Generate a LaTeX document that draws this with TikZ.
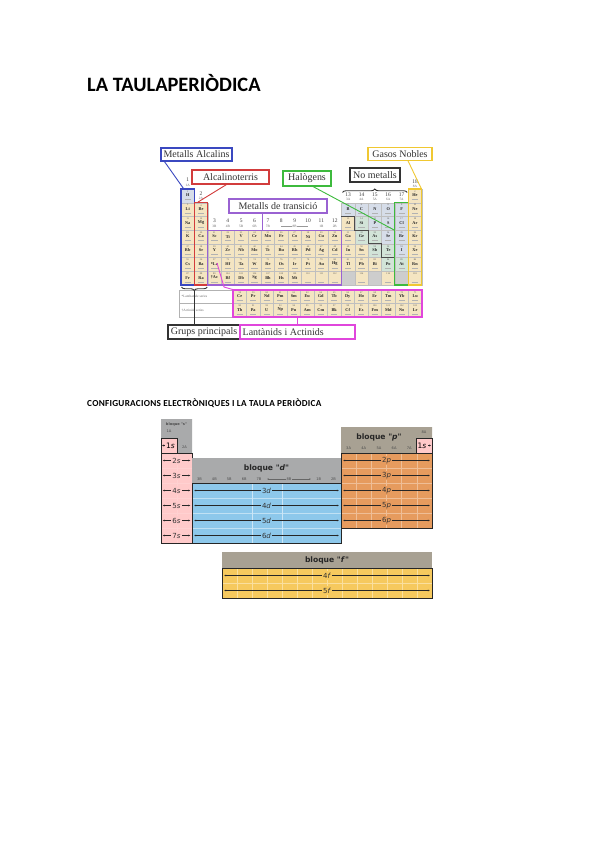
\documentclass[tikz,border=0pt]{standalone}
\usepackage{fontspec}
\setmainfont{Liberation Serif}
\newfontfamily\calfont{Carlito}
\newfontfamily\calspfont[LetterSpace=3]{Carlito}
\newfontfamily\dvfont{DejaVu Sans}
\usetikzlibrary{decorations.pathreplacing,arrows.meta}
\definecolor{pte}{HTML}{F4E5C2}
\definecolor{nm}{HTML}{D6DDE9}
\definecolor{md}{HTML}{D2E4D8}
\definecolor{un}{HTML}{CDCDCD}
\definecolor{cblue}{HTML}{3A48C0}
\definecolor{cred}{HTML}{D23C3C}
\definecolor{cgreen}{HTML}{3DBA3D}
\definecolor{cyel}{HTML}{F0C832}
\definecolor{cpur}{HTML}{9A62D2}
\definecolor{cmag}{HTML}{E046DC}
\definecolor{cdark}{HTML}{333333}
\definecolor{spink}{HTML}{FFCACA}
\definecolor{dblue}{HTML}{8DC8EB}
\definecolor{porange}{HTML}{E69B5E}
\definecolor{fyel}{HTML}{F6C95E}
\definecolor{hgray}{HTML}{A9AAAB}
\definecolor{hwarm}{HTML}{A8A193}
\def\cw{13.37}
\def\ch{13.71}
\newcommand\pcell[5]{%
  \fill[#5] (#1,#2) rectangle ++(\cw,\ch);
  \draw[cellln] (#1,#2) rectangle ++(\cw,\ch);
  \node[eno] at (#1+0.5*\cw,#2+2.5) {#3};
  \node[esym] at (#1+0.5*\cw,#2+6.4) {#4};
  \draw[massln] (#1+3.6,#2+10.6) -- ++(\cw-7.2,0);
}
\begin{document}
\begin{tikzpicture}[x=1pt,y=-1pt,
  cellln/.style={draw=black!25,line width=0.3pt},
  eno/.style={font=\fontsize{2.4}{2.4}\selectfont,inner sep=0pt,text=black!70},
  esym/.style={font=\fontsize{4.3}{4.3}\selectfont\bfseries,inner sep=0pt,text=black!85},
  massln/.style={draw=black!30,line width=0.6pt},
  gn/.style={font=\fontsize{5.5}{5.5}\selectfont,inner sep=0pt,text=black!75},
  ga/.style={font=\fontsize{3.4}{3.4}\selectfont,inner sep=0pt,text=black!60},
  lbl/.style={draw,line width=1.1pt,inner sep=0pt,font=\fontsize{10}{10}\selectfont,text=black!80},
  grp/.style={draw,line width=1.1pt,inner sep=0pt},
  conn/.style={line width=0.9pt},
  hdbig/.style={font=\dvfont\bfseries\fontsize{7.6}{8}\selectfont,inner sep=0pt,text=black!85},
  hdtiny/.style={font=\dvfont\fontsize{3.6}{4}\selectfont,inner sep=0.6pt,text=black!70},
  rowarr/.style={{Latex[length=2.2pt,width=2pt]}-{Latex[length=2.2pt,width=2pt]},line width=0.8pt,draw=black!85},
  rowlbl/.style={font=\dvfont\fontsize{7}{7}\selectfont,inner sep=1.5pt,text=black!80},
  blockln/.style={draw=black!85,line width=0.9pt},
  gridln/.style={line width=0.5pt}
]
\useasboundingbox (0,0) rectangle (600,848);
\fill[white] (0,0) rectangle (600,848);

% ---------- titles ----------
\node[anchor=west,inner sep=0pt] (title) at (87,83.5) {\calfont\bfseries\fontsize{20.4}{20.4}\selectfont LA TAULAPERIÒDICA};
\node[anchor=west,inner sep=0pt] (sub) at (87,403) {\calspfont\bfseries\fontsize{9.2}{9.2}\selectfont CONFIGURACIONS ELECTRÒNIQUES I LA TAULA PERIÒDICA};

% ---------- periodic table cells ----------
\foreach \c/\r/\n/\s/\f in {
1/1/1/H/nm, 18/1/2/He/pte,
1/2/3/Li/pte, 2/2/4/Be/pte, 13/2/5/B/nm, 14/2/6/C/nm, 15/2/7/N/nm, 16/2/8/O/nm, 17/2/9/F/nm, 18/2/10/Ne/pte,
1/3/11/Na/pte, 2/3/12/Mg/pte, 13/3/13/Al/pte, 14/3/14/Si/md, 15/3/15/P/nm, 16/3/16/S/nm, 17/3/17/Cl/nm, 18/3/18/Ar/pte,
1/4/19/K/pte,2/4/20/Ca/pte,3/4/21/Sc/pte,4/4/22/Ti/pte,5/4/23/V/pte,6/4/24/Cr/pte,7/4/25/Mn/pte,8/4/26/Fe/pte,9/4/27/Co/pte,10/4/28/Ni/pte,11/4/29/Cu/pte,12/4/30/Zn/pte,13/4/31/Ga/pte,14/4/32/Ge/md,15/4/33/As/md,16/4/34/Se/nm,17/4/35/Br/nm,18/4/36/Kr/pte,
1/5/37/Rb/pte,2/5/38/Sr/pte,3/5/39/Y/pte,4/5/40/Zr/pte,5/5/41/Nb/pte,6/5/42/Mo/pte,7/5/43/Tc/pte,8/5/44/Ru/pte,9/5/45/Rh/pte,10/5/46/Pd/pte,11/5/47/Ag/pte,12/5/48/Cd/pte,13/5/49/In/pte,14/5/50/Sn/pte,15/5/51/Sb/md,16/5/52/Te/md,17/5/53/I/nm,18/5/54/Xe/pte,
1/6/55/Cs/pte,2/6/56/Ba/pte,3/6/57/*La/pte,4/6/72/Hf/pte,5/6/73/Ta/pte,6/6/74/W/pte,7/6/75/Re/pte,8/6/76/Os/pte,9/6/77/Ir/pte,10/6/78/Pt/pte,11/6/79/Au/pte,12/6/80/Hg/pte,13/6/81/Tl/pte,14/6/82/Pb/pte,15/6/83/Bi/pte,16/6/84/Po/md,17/6/85/At/md,18/6/86/Rn/pte,
1/7/87/Fr/pte,2/7/88/Ra/pte,3/7/89/†Ac/pte,4/7/104/Rf/pte,5/7/105/Db/pte,6/7/106/Sg/pte,7/7/107/Bh/pte,8/7/108/Hs/pte,9/7/109/Mt/pte,10/7/110/{}/pte,11/7/111/{}/pte,12/7/112/{}/pte,14/7/114/{}/pte,16/7/116/{}/pte,18/7/118/{}/pte}
{
  \pgfmathsetmacro\xx{181+(\c-1)*13.37}
  \pgfmathsetmacro\yy{189+(\r-1)*13.71}
  \pcell{\xx}{\yy}{\n}{\s}{\f}
}
\foreach \c in {13,15,17}{
  \pgfmathsetmacro\xx{181+(\c-1)*13.37}
  \fill[un] (\xx,271.26) rectangle ++(13.37,13.71);
  \draw[cellln] (\xx,271.26) rectangle ++(13.37,13.71);
}
% metal / non-metal staircase
\draw[black!70,line width=0.9pt] (341.44,216.42) -- (354.81,216.42) -- (354.81,230.13) -- (368.18,230.13) -- (368.18,243.84) -- (381.55,243.84) -- (381.55,257.55) -- (394.92,257.55) -- (394.92,271.26);

% group headers
\node[gn] (g1) at (187.7,180) {1};
\node[ga] (g1a) at (187.7,185.3) {1A};
\node[gn] (g2) at (201.05,193.5) {2};
\node[ga] (g2a) at (201.05,198.5) {2A};
\foreach \c/\t in {3/3B,4/4B,5/5B,6/6B,7/7B,11/1B,12/2B}{
  \pgfmathsetmacro\xx{181+(\c-0.5)*13.37}
  \node[gn] at (\xx,221) {\c};
  \node[ga] at (\xx,226.3) {\t};
}
\foreach \c in {8,9,10}{
  \pgfmathsetmacro\xx{181+(\c-0.5)*13.37}
  \node[gn] at (\xx,221) {\c};
}
\draw[black!40,line width=0.3pt] (281.3,226.3) -- (308,226.3);
\node[ga,fill=white,inner sep=0.5pt] (g8b) at (294.6,226.3) {8B};
\foreach \c/\t in {13/3A,14/4A,15/5A,16/6A,17/7A}{
  \pgfmathsetmacro\xx{181+(\c-0.5)*13.37}
  \node[gn] at (\xx,195) {\c};
  \node[ga] at (\xx,199.8) {\t};
}
\node[gn] (g18) at (415,181.5) {18};
\node[ga] (g18a) at (415,186.2) {8A};

% lanthanides / actinides
\def\cw{13.5}
\def\ch{13.5}
\foreach \i/\n/\s in {0/58/Ce,1/59/Pr,2/60/Nd,3/61/Pm,4/62/Sm,5/63/Eu,6/64/Gd,7/65/Tb,8/66/Dy,9/67/Ho,10/68/Er,11/69/Tm,12/70/Yb,13/71/Lu}{
  \pgfmathsetmacro\xx{233+\i*13.5}
  \pcell{\xx}{290}{\n}{\s}{pte}
}
\foreach \i/\n/\s in {0/90/Th,1/91/Pa,2/92/U,3/93/Np,4/94/Pu,5/95/Am,6/96/Cm,7/97/Bk,8/98/Cf,9/99/Es,10/100/Fm,11/101/Md,12/102/No,13/103/Lr}{
  \pgfmathsetmacro\xx{233+\i*13.5}
  \pcell{\xx}{303.5}{\n}{\s}{pte}
}
\draw[black!30,line width=0.4pt] (179,290) rectangle (233,317);
\draw[black!30,line width=0.4pt] (179,303.5) -- (233,303.5);
\node[anchor=west,inner sep=0pt,font=\fontsize{3.4}{3.4}\selectfont,text=black!60] (lser) at (181.5,296.8) {*Lanthanide series};
\node[anchor=west,inner sep=0pt,font=\fontsize{3.4}{3.4}\selectfont,text=black!60] (aser) at (181.5,310.3) {†Actinide series};

% group outline boxes
\node[grp,draw=cblue,minimum width=13.37,minimum height=95.97] (gbl) at (187.69,236.99) {};
\node[grp,draw=cred,minimum width=13.37,minimum height=82.26] (grd) at (201.06,243.84) {};
\node[grp,draw=cpur,minimum width=133.7,minimum height=54.84] (gpu) at (274.59,257.55) {};
\node[grp,draw=cgreen,minimum width=13.37,minimum height=82.26] (ggr) at (401.61,243.84) {};
\node[grp,draw=cyel,minimum width=13.37,minimum height=95.97] (gye) at (414.98,236.99) {};
\node[grp,draw=cmag,minimum width=189,minimum height=27] (lanbox) at (327.5,303.5) {};

% label boxes
\node[lbl,draw=cblue,minimum width=71,minimum height=13] (alc) at (196.5,154.5) {Metalls Alcalins};
\node[lbl,draw=cred,minimum width=77,minimum height=14] (alt) at (230.5,177) {Alcalinoterris};
\node[lbl,draw=cgreen,minimum width=48,minimum height=15] (hal) at (307,178.5) {Halògens};
\node[lbl,draw=cdark,minimum width=50,minimum height=14] (nom) at (375,175) {No metalls};
\node[lbl,draw=cyel,minimum width=64,minimum height=12.5] (gas) at (400,154) {Gasos Nobles};
\node[lbl,draw=cpur,minimum width=98,minimum height=14] (mtr) at (278,206) {Metalls de transició};
\node[lbl,draw=cdark,minimum width=72,minimum height=14] (gpr) at (204,332) {Grups principals};
\node[grp,draw=cmag,minimum width=115,minimum height=14] (lan) at (297.5,332) {};
\node[anchor=west,inner sep=0pt,font=\fontsize{10}{10}\selectfont,text=black!80] (lant) at ([xshift=3pt]lan.west) {Lantànids i Actinids};

% connectors
\draw[conn,cblue] ([xshift=4pt]alc.south west) -- ([xshift=3pt]gbl.north west);
\draw[conn,cred] ([xshift=-4pt]alt.south) -- ([xshift=4pt]grd.north west);
\draw[conn,cgreen] ([xshift=6pt]hal.south) -- (ggr.west |- 0,230.13);
\draw[conn,cyel] ([xshift=8pt]gas.south) -- ([xshift=-1pt]gye.north east);
\draw[conn,cpur] ([xshift=-16pt]mtr.south) -- ([xshift=-16pt]mtr.south |- gpu.north);
\draw[conn,cmag] (lan.north) -- (lan.north |- lanbox.south);
\coordinate (lafrom) at (217,263);
\draw[conn,cmag] (lafrom) -- (224,287) -- (lanbox.north west);
\draw[conn,cdark,decorate,decoration={brace,amplitude=3.5pt}] (342.5,192.5) -- (407.2,192.5);
\draw[conn,cdark,decorate,decoration={brace,amplitude=3.5pt}] (207.2,287) -- (181.5,287);
\coordinate (bt) at (194.4,290.5);
\draw[conn,cdark] (bt) -- (bt |- gpr.north);

% ---------- electron configuration blocks ----------
% s block
\fill[hgray] (161,419) -- (192,419) -- (192,453) -- (177,453) -- (177,438) -- (161,438) -- cycle;
\node[hdtiny,font=\dvfont\bfseries\fontsize{3.6}{4}\selectfont] (bs) at (176.5,424.5) {bloque "s"};
\node[hdtiny] (s1a) at (169,431) {1A};
\node[hdtiny] (s2a) at (184.5,447) {2A};
\fill[spink] (161,438) rectangle (177,453);
\fill[spink] (161,453) rectangle (192,543);
\foreach \y in {468,483,498,513,528}{\draw[gridln,draw=white!55!red!40] (161,\y) -- (192,\y);}
\draw[gridln,draw=white!55!red!40] (177,453) -- (177,543);
\draw[blockln] (161,438) -- (177,438) -- (177,453) -- (192,453) -- (192,543) -- (161,543) -- cycle;
\draw[blockln] (161,453) -- (177,453);
\draw[-{Latex[length=2.2pt,width=2pt]},line width=0.8pt,draw=black!85] (164.5,445.5) -- (161.8,445.5);
\node[rowlbl,font=\dvfont\fontsize{7.5}{7.5}\selectfont,text=black] (s1) at (170.5,445.5) {1\textit{s}};
\foreach \i in {2,...,7}{
  \pgfmathsetmacro\yy{438+15*(\i-1)+7.5}
  \draw[rowarr] (162.5,\yy) -- (190.5,\yy);
  \node[rowlbl,fill=spink] at (176.5,\yy) {\i\textit{s}};
}
% d block
\fill[hgray] (192,458) rectangle (341,483);
\node[hdbig] (bd) at (266.5,468) {bloque "\textit{d}"};
\foreach \k/\t in {0/3B,1/4B,2/5B,3/6B,4/7B,8/1B,9/2B}{
  \pgfmathsetmacro\xx{192+14.9*(\k+0.5)}
  \node[hdtiny] at (\xx,479) {\t};
}
\draw[{Latex[length=1.6pt,width=1.6pt]}-{Latex[length=1.6pt,width=1.6pt]},line width=0.4pt,draw=black!60] (267,479) -- (311,479);
\node[hdtiny,fill=hgray] (d8b) at (289,479) {8B};
\fill[dblue] (192,483) rectangle (341,543);
\foreach \y in {498,513,528}{\draw[gridln,draw=white!45!dblue] (192,\y) -- (341,\y);}
\foreach \x in {252,282}{\draw[gridln,draw=white!55!dblue] (\x,483) -- (\x,543);}
\draw[blockln] (192,483) rectangle (341,543);
\foreach \i in {3,...,6}{
  \pgfmathsetmacro\yy{483+15*(\i-3)+7.5}
  \draw[rowarr] (194,\yy) -- (339,\yy);
  \node[rowlbl,fill=dblue] at (266.5,\yy) {\i\textit{d}};
}
% p block
\fill[hwarm] (341,427) -- (432,427) -- (432,438) -- (416,438) -- (416,453) -- (341,453) -- cycle;
\node[hdbig] (bp) at (379,437.5) {bloque "\textit{p}"};
\node[hdtiny] (p8a) at (424,432) {8A};
\foreach \k/\t in {0/3A,1/4A,2/5A,3/6A,4/7A}{
  \pgfmathsetmacro\xx{341+15.17*(\k+0.5)}
  \node[hdtiny] at (\xx,448) {\t};
}
\fill[spink] (416,438) rectangle (432,453);
\draw[blockln] (416,438) rectangle (432,453);
\node[rowlbl,font=\dvfont\fontsize{7.5}{7.5}\selectfont,text=black] (p1s) at (422,445.5) {1\textit{s}};
\draw[-{Latex[length=2.2pt,width=2pt]},line width=0.8pt,draw=black!85] (428,445.5) -- (431.2,445.5);
\fill[porange] (341,453) rectangle (432,528);
\foreach \k in {1,...,5}{\draw[gridln,draw=white!35!porange] (341+15.17*\k,453) -- (341+15.17*\k,528);}
\foreach \y in {468,483,498,513}{\draw[gridln,draw=white!35!porange] (341,\y) -- (432,\y);}
\draw[blockln] (341,453) rectangle (432,528);
\foreach \i in {2,...,6}{
  \pgfmathsetmacro\yy{453+15*(\i-2)+7.5}
  \draw[rowarr] (343,\yy) -- (430,\yy);
  \node[rowlbl,fill=porange] at (386.5,\yy) {\i\textit{p}};
}
% f block
\fill[hwarm] (222,552) rectangle (432,568);
\node[hdbig] (bfh) at (327,560) {bloque "\textit{f}"};
\fill[fyel] (222,568) rectangle (432,598);
\foreach \k in {1,...,13}{\draw[gridln,draw=white!40!fyel] (222+15*\k,568) -- (222+15*\k,598);}
\draw[gridln,draw=white!40!fyel] (222,583) -- (432,583);
\draw[blockln] (222,568) rectangle (432,598);
\foreach \i in {4,5}{
  \pgfmathsetmacro\yy{568+15*(\i-4)+7.5}
  \draw[rowarr] (224,\yy) -- (430,\yy);
  \node[rowlbl,fill=fyel] at (327,\yy) {\i\textit{f}};
}
\end{tikzpicture}
\end{document}
